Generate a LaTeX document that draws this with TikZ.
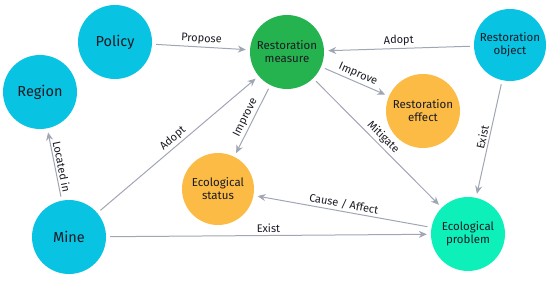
\documentclass[tikz,border=0pt]{standalone}
\usepackage{fontspec}
\setmainfont{Fira Sans}
\usetikzlibrary{arrows.meta}
\definecolor{cyanc}{HTML}{08C3E2}
\definecolor{greenc}{HTML}{25B34F}
\definecolor{orangec}{HTML}{FBBB44}
\definecolor{tealc}{HTML}{0DF0BA}
\definecolor{edgec}{HTML}{A0A6B4}
\definecolor{txtc}{HTML}{1A1A24}
\tikzset{
  circ/.style={circle, minimum size=74pt, inner sep=0pt, text=txtc, align=center},
  big/.style={font=\fontsize{14.5}{16}\selectfont},
  small/.style={font=\fontsize{11.5}{13}\selectfont},
  rel/.style={draw=edgec, line width=1pt, -{Stealth[length=8pt,width=7pt]}, shorten >=4pt, shorten <=4pt},
  lab/.style={font=\fontsize{11}{12}\selectfont, text=txtc, sloped, above, inner sep=2pt}
}
\begin{document}
\begin{tikzpicture}[x=1pt,y=-1pt]
\useasboundingbox (0,0) rectangle (550,281);
\node[circ, big, fill=cyanc] (policy) at (115,42) {Policy};
\node[circ, big, fill=cyanc] (region) at (40,92) {Region};
\node[circ, small, fill=greenc] (measure) at (287,52) {Restoration\\measure};
\node[circ, small, fill=cyanc, minimum size=72pt] (object) at (510,45) {Restoration\\object};
\node[circ, small, fill=orangec] (effect) at (423,111) {Restoration\\effect};
\node[circ, small, fill=orangec, minimum size=72pt] (status) at (218,189) {Ecological\\status};
\node[circ, big, fill=cyanc] (mine) at (69,237) {Mine};
\node[circ, small, fill=tealc] (problem) at (468,234) {Ecological\\problem};

\draw[rel] (policy) -- node[lab] {Propose} (measure);
\draw[rel] (object) -- node[lab] {Adopt} (measure);
\draw[rel] (measure) -- node[lab] {Improve} (effect);
\draw[rel] (measure) -- node[lab] {Improve} (status);
\draw[rel] (measure) -- node[lab] {Mitigate} (problem);
\draw[rel] (object) -- node[lab] {Exist} (problem);
\draw[rel] (mine) -- node[lab, pos=0.45] {Located in} (region);
\draw[rel] (mine) -- node[lab] {Adopt} (measure);
\draw[rel] (mine) -- node[lab] {Exist} (problem);
\draw[rel] (problem) -- node[lab] {Cause / Affect} (status);
\end{tikzpicture}
\end{document}
